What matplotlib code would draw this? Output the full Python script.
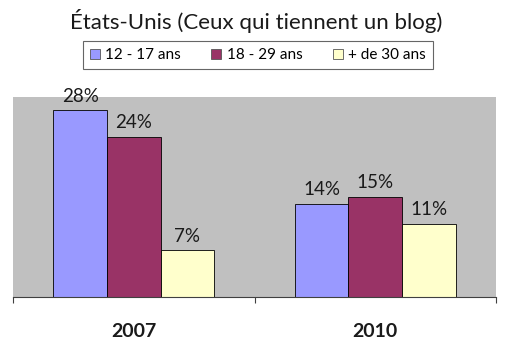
import numpy as np
import matplotlib.pyplot as plt
from matplotlib.patches import Patch

# blog share by age group, USA
years = ['2007', '2010']
groups = ['12 - 17 ans', '18 - 29 ans', '+ de 30 ans']
values = {
    '12 - 17 ans': [28, 14],
    '18 - 29 ans': [24, 15],
    '+ de 30 ans': [7, 11],
}
colors = ['#9999FF', '#993366', '#FFFFCC']

plt.rcParams['font.family'] = ['Lato', 'DejaVu Sans']

fig = plt.figure(figsize=(5.12, 3.42), dpi=100)
fig.patch.set_facecolor('white')
ax = fig.add_axes([13/512, 45/342, 483/512, 200/342])
ax.set_facecolor('#C0C0C0')

x = np.arange(len(years))
w = 0.222
for i, g in enumerate(groups):
    bars = ax.bar(x + (i - 1) * w, values[g], w, color=colors[i],
                  edgecolor='black', linewidth=0.6, label=g)
    ax.bar_label(bars, labels=[f'{v}%' for v in values[g]], padding=4,
                 fontsize=13.5, color='#1a1a1a')

ax.set_xlim(-0.5, 1.5)
ax.set_ylim(0, 30)
ax.set_yticks([])
for s in ['top', 'right', 'left']:
    ax.spines[s].set_visible(False)
ax.spines['bottom'].set_color('#404040')
ax.spines['bottom'].set_linewidth(0.8)

ax.set_xticks(x)
ax.set_xticklabels(years, fontsize=14, fontweight='bold', color='#1a1a1a')
ax.tick_params(axis='x', which='major', length=0, pad=19)
ax.set_xticks([-0.5, 0.5, 1.5], minor=True)
ax.tick_params(axis='x', which='minor', length=4, color='#404040', width=0.8)

fig.text(0.5, 1 - 21/342, 'États-Unis (Ceux qui tiennent un blog)',
         ha='center', va='center', fontsize=16, color='#1a1a1a')

handles = [Patch(facecolor=c, edgecolor='#555555', linewidth=0.6) for c in colors]
leg = fig.legend(handles, groups, loc='center', bbox_to_anchor=(258/512, 1 - 55/342),
                 ncol=3, fontsize=11, frameon=True, fancybox=False,
                 handlelength=0.65, handleheight=0.65, handletextpad=0.35,
                 columnspacing=2.0, borderpad=0.45)
leg.get_frame().set_edgecolor('#404040')
leg.get_frame().set_linewidth(0.8)

fig.savefig('out.png', dpi=100)
